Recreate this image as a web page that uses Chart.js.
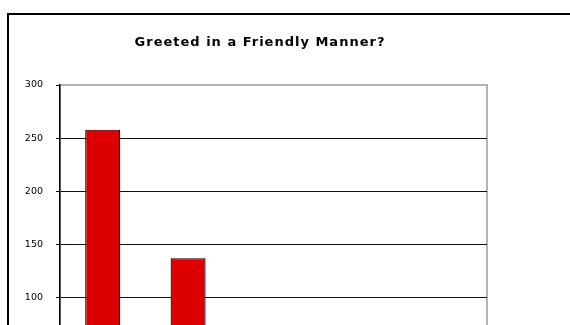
<!DOCTYPE html>
<html>
<head>
<meta charset="utf-8">
<script src="https://cdn.jsdelivr.net/npm/chart.js@4.4.1/dist/chart.umd.min.js"></script>
<style>
  html, body { margin: 0; padding: 0; background: #fff; overflow: hidden; width: 570px; height: 325px; }
  #frame { position: absolute; left: 7px; top: 13px; width: 620px; height: 500px; border: 2px solid #000; box-sizing: border-box; }
  #chart { position: absolute; left: 0; top: 0; }
</style>
</head>
<body>
<div id="frame"></div>
<canvas id="chart" width="640" height="480"></canvas>
<script>
// survey answers, one bar per answer
const categories = ['Always', 'Usually', 'Sometimes', 'Rarely', 'Never'];
const responses = [258, 137, 62, 24, 9];
// value axis
const Y_MAX = 300;
const Y_STEP = 50;
const TITLE = 'Greeted in a Friendly Manner?';

// grey plot-area box behind the grid, like the old spreadsheet charts
const plotBox = {
  id: 'plotBox',
  beforeDraw(chart) {
    const a = chart.chartArea;
    const ctx = chart.ctx;
    ctx.save();
    ctx.strokeStyle = '#9a9a9a';
    ctx.lineWidth = 1.5;
    ctx.strokeRect(a.left, a.top, a.right - a.left, a.bottom - a.top);
    ctx.restore();
  }
};

// wide, letter-spaced title centred over the whole frame
const wideTitle = {
  id: 'wideTitle',
  afterDraw(chart) {
    const ctx = chart.ctx;
    ctx.save();
    ctx.font = 'bold 13px "DejaVu Sans"';
    ctx.letterSpacing = '1px';
    ctx.fillStyle = '#000';
    ctx.textAlign = 'center';
    ctx.textBaseline = 'middle';
    ctx.fillText(TITLE, 260, 43);
    ctx.restore();
  }
};

const CHART = document.getElementById('chart');
new Chart(CHART, {
  type: 'bar',
  data: {
    labels: categories,
    datasets: [{
      label: 'Responses',
      data: responses,
      backgroundColor: '#dd0000',
      borderColor: '#000',
      borderWidth: 1.2,
      categoryPercentage: 1,
      barPercentage: 0.41
    }]
  },
  options: {
    responsive: false,
    animation: false,
    devicePixelRatio: 1,
    layout: { padding: { left: 0, right: 153, top: 85, bottom: 0 } },
    plugins: {
      legend: { display: false },
      tooltip: { enabled: false },
      title: { display: false }
    },
    scales: {
      x: {
        grid: { display: false },
        border: { color: '#000', width: 1.5 },
        ticks: { color: '#000', font: { family: 'DejaVu Sans', size: 10 } },
        afterFit(scale) { scale.height = 76; }
      },
      y: {
        min: 0,
        max: Y_MAX,
        ticks: {
          stepSize: Y_STEP,
          color: '#000',
          padding: 13,
          font: { family: 'DejaVu Sans', size: 9.5 }
        },
        grid: {
          color: ctx => (ctx.tick && ctx.tick.value === Y_MAX) ? 'rgba(0,0,0,0)' : '#111',
          lineWidth: 1,
          tickLength: 4,
          tickColor: '#000'
        },
        border: { color: '#000', width: 1.5 },
        afterFit(scale) { scale.width = 60; }
      }
    }
  },
  plugins: [plotBox, wideTitle]
});
</script>
</body>
</html>
